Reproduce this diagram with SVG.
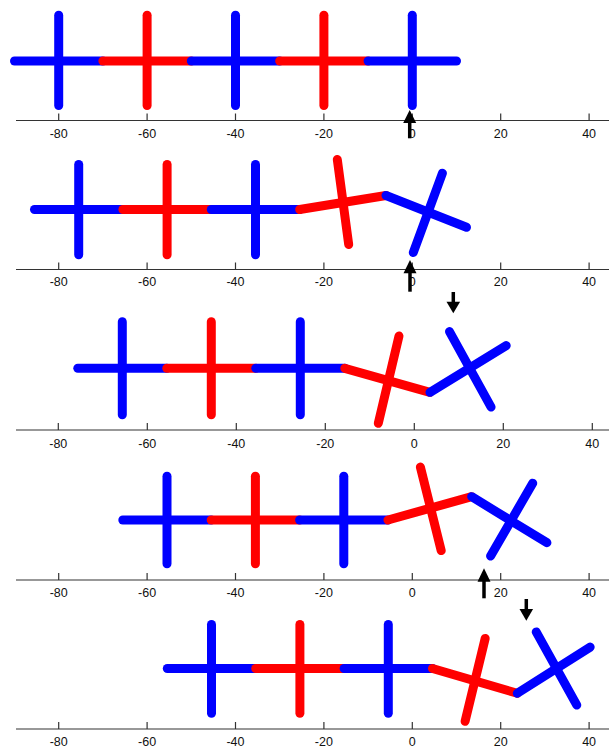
<svg xmlns="http://www.w3.org/2000/svg" width="609" height="749" viewBox="0 0 609 749">
<style>
.seg{fill:none;stroke-width:9;stroke-linecap:round}
.b{stroke:#0000ff}
.r{stroke:#ff0000}
.ax{stroke:#333;stroke-width:1.2;fill:none}
.lbl{font-family:"Liberation Sans",Arial,sans-serif;font-size:12.5px;fill:#111;text-anchor:middle}
.arr{fill:#000}
.shaft{stroke:#000;stroke-width:3.5}
</style>
<rect width="609" height="749" fill="#fff"/>

<!-- Axes -->
<g id="axes">
  <g id="axis1">
    <path class="ax" d="M16 120.5H609M58.7 120.5v-7M147.1 120.5v-7M235.5 120.5v-7M323.9 120.5v-7M412.3 120.5v-7M500.7 120.5v-7M589.1 120.5v-7"/>
    <text class="lbl" y="137.5"><tspan x="58.7">-80</tspan><tspan x="147.1">-60</tspan><tspan x="235.5">-40</tspan><tspan x="323.9">-20</tspan><tspan x="412.3">0</tspan><tspan x="500.7">20</tspan><tspan x="589.1">40</tspan></text>
  </g>
  <g id="axis2">
    <path class="ax" d="M16 269.5H609M58.7 269.5v-7M147.1 269.5v-7M235.5 269.5v-7M323.9 269.5v-7M412.3 269.5v-7M500.7 269.5v-7M589.1 269.5v-7"/>
    <text class="lbl" y="286.3"><tspan x="58.7">-80</tspan><tspan x="147.1">-60</tspan><tspan x="235.5">-40</tspan><tspan x="323.9">-20</tspan><tspan x="412.3">0</tspan><tspan x="500.7">20</tspan><tspan x="589.1">40</tspan></text>
  </g>
  <g id="axis3">
    <path class="ax" d="M16 430H609M58.3 430v-7M147.3 430v-7M236.3 430v-7M325.3 430v-7M414.3 430v-7M503.3 430v-7M592.3 430v-7"/>
    <text class="lbl" y="447.5"><tspan x="58.3">-80</tspan><tspan x="147.3">-60</tspan><tspan x="236.3">-40</tspan><tspan x="325.3">-20</tspan><tspan x="414.3">0</tspan><tspan x="503.3">20</tspan><tspan x="592.3">40</tspan></text>
  </g>
  <g id="axis4">
    <path class="ax" d="M16 580H609M58.7 580v-7M147.1 580v-7M235.5 580v-7M323.9 580v-7M412.3 580v-7M500.7 580v-7M589.1 580v-7"/>
    <text class="lbl" y="596.5"><tspan x="58.7">-80</tspan><tspan x="147.1">-60</tspan><tspan x="235.5">-40</tspan><tspan x="323.9">-20</tspan><tspan x="412.3">0</tspan><tspan x="500.7">20</tspan><tspan x="589.1">40</tspan></text>
  </g>
  <g id="axis5">
    <path class="ax" d="M16 729H609M58.7 729v-7M147.1 729v-7M235.5 729v-7M323.9 729v-7M412.3 729v-7M500.7 729v-7M589.1 729v-7"/>
    <text class="lbl" y="745.5"><tspan x="58.7">-80</tspan><tspan x="147.1">-60</tspan><tspan x="235.5">-40</tspan><tspan x="323.9">-20</tspan><tspan x="412.3">0</tspan><tspan x="500.7">20</tspan><tspan x="589.1">40</tspan></text>
  </g>
</g>

<!-- Panel 1 -->
<g id="panel1">
  <g id="p1-s1" class="seg b"><line x1="14.5" y1="61" x2="102.9" y2="61"/><line x1="58.7" y1="15.2" x2="58.7" y2="105.5"/></g>
  <g id="p1-s2" class="seg r"><line x1="102.9" y1="61" x2="191.3" y2="61"/><line x1="147.1" y1="15.2" x2="147.1" y2="105.5"/></g>
  <g id="p1-s3" class="seg b"><line x1="191.3" y1="61" x2="279.7" y2="61"/><line x1="235.5" y1="15.2" x2="235.5" y2="105.5"/></g>
  <g id="p1-s4" class="seg r"><line x1="279.7" y1="61" x2="368.1" y2="61"/><line x1="323.9" y1="15.2" x2="323.9" y2="105.5"/></g>
  <g id="p1-s5" class="seg b"><line x1="368.1" y1="61" x2="456.5" y2="61"/><line x1="412.3" y1="15.2" x2="412.3" y2="105.5"/></g>
</g>

<!-- Panel 2 -->
<g id="panel2">
  <g id="p2-s1" class="seg b"><line x1="34.5" y1="209.5" x2="122.9" y2="209.5"/><line x1="78.7" y1="164.5" x2="78.7" y2="254.8"/></g>
  <g id="p2-s2" class="seg r"><line x1="122.9" y1="209.5" x2="211.3" y2="209.5"/><line x1="167.1" y1="164.5" x2="167.1" y2="254.8"/></g>
  <g id="p2-s3" class="seg b"><line x1="211.3" y1="209.5" x2="299.7" y2="209.5"/><line x1="255.5" y1="164.5" x2="255.5" y2="254.8"/></g>
  <g id="p2-s4" class="seg r"><line x1="299.7" y1="209.5" x2="386" y2="195.5"/><line x1="337.3" y1="159.5" x2="348.7" y2="244.5"/></g>
  <g id="p2-s5" class="seg b"><line x1="386" y1="195.5" x2="466.5" y2="227.3"/><line x1="442.4" y1="173.2" x2="413.3" y2="252.5"/></g>
</g>

<!-- Panel 3 -->
<g id="panel3">
  <g id="p3-s1" class="seg b"><line x1="77.8" y1="368.3" x2="166.8" y2="368.3"/><line x1="122.3" y1="321.8" x2="122.3" y2="414.8"/></g>
  <g id="p3-s2" class="seg r"><line x1="166.8" y1="368.3" x2="255.8" y2="368.3"/><line x1="211.3" y1="321.8" x2="211.3" y2="414.8"/></g>
  <g id="p3-s3" class="seg b"><line x1="255.8" y1="368.3" x2="344.8" y2="368.3"/><line x1="300.3" y1="321.8" x2="300.3" y2="414.8"/></g>
  <g id="p3-s4" class="seg r"><line x1="344.8" y1="368.3" x2="430" y2="392.3"/><line x1="399" y1="336" x2="378.3" y2="423.3"/></g>
  <g id="p3-s5" class="seg b"><line x1="430" y1="392.3" x2="506.2" y2="345.6"/><line x1="449.5" y1="331.6" x2="491.1" y2="407.1"/></g>
</g>

<!-- Panel 4 -->
<g id="panel4">
  <g id="p4-s1" class="seg b"><line x1="122.8" y1="520" x2="211.2" y2="520"/><line x1="167" y1="476.2" x2="167" y2="563.8"/></g>
  <g id="p4-s2" class="seg r"><line x1="211.2" y1="520" x2="299.6" y2="520"/><line x1="255.4" y1="476.2" x2="255.4" y2="563.8"/></g>
  <g id="p4-s3" class="seg b"><line x1="299.6" y1="520" x2="388" y2="520"/><line x1="343.8" y1="476.2" x2="343.8" y2="563.8"/></g>
  <g id="p4-s4" class="seg r"><line x1="388" y1="520" x2="471.7" y2="496.7"/><line x1="420.4" y1="467.1" x2="441.2" y2="550.6"/></g>
  <g id="p4-s5" class="seg b"><line x1="471.7" y1="496.7" x2="546.9" y2="542.7"/><line x1="532.7" y1="483.2" x2="490.6" y2="556.1"/></g>
</g>

<!-- Panel 5 -->
<g id="panel5">
  <g id="p5-s1" class="seg b"><line x1="167.3" y1="668.5" x2="255.7" y2="668.5"/><line x1="211.5" y1="624.5" x2="211.5" y2="713.2"/></g>
  <g id="p5-s2" class="seg r"><line x1="255.7" y1="668.5" x2="344.1" y2="668.5"/><line x1="299.9" y1="624.5" x2="299.9" y2="713.2"/></g>
  <g id="p5-s3" class="seg b"><line x1="344.1" y1="668.5" x2="432.5" y2="668.5"/><line x1="388.3" y1="624.5" x2="388.3" y2="713.2"/></g>
  <g id="p5-s4" class="seg r"><line x1="432.5" y1="668.5" x2="517.3" y2="693.3"/><line x1="485.2" y1="638.4" x2="465.1" y2="721.3"/></g>
  <g id="p5-s5" class="seg b"><line x1="517.3" y1="693.3" x2="590.2" y2="647.1"/><line x1="536.2" y1="631.9" x2="576.8" y2="705.1"/></g>
</g>

<!-- Arrows -->
<g id="arrows">
  <g id="arrow1"><line class="shaft" x1="409.7" y1="122" x2="409.7" y2="138.3"/><polygon class="arr" points="409.7,110 403.2,123 416.2,123"/></g>
  <g id="arrow2"><line class="shaft" x1="410" y1="272" x2="410" y2="291.7"/><polygon class="arr" points="410,260 403.5,273.3 416.5,273.3"/></g>
  <g id="arrow3"><line class="shaft" x1="453.3" y1="292" x2="453.3" y2="303"/><polygon class="arr" points="453.3,313.3 446.5,301.7 460.1,301.7"/></g>
  <g id="arrow4"><line class="shaft" x1="484" y1="580.5" x2="484" y2="598.3"/><polygon class="arr" points="484,568.3 477.5,581.7 490.5,581.7"/></g>
  <g id="arrow5"><line class="shaft" x1="526.3" y1="599" x2="526.3" y2="610"/><polygon class="arr" points="526.3,620.7 519.5,609 533.1,609"/></g>
</g>
</svg>
